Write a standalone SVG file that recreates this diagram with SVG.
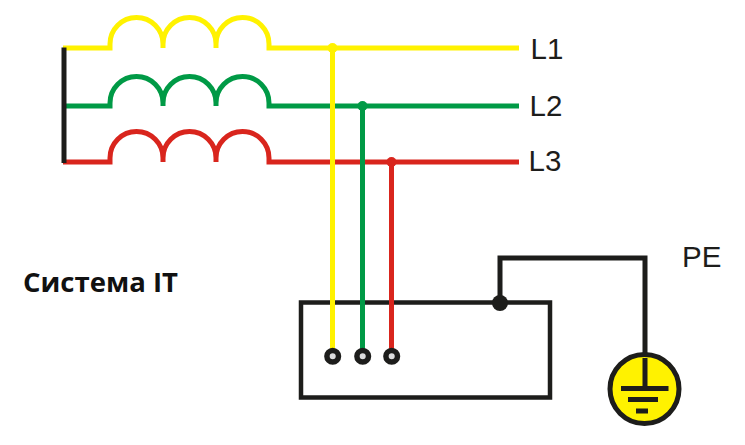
<svg xmlns="http://www.w3.org/2000/svg" width="745" height="445" viewBox="0 0 745 445">
<style>
.w{fill:none;stroke-width:5;stroke-linejoin:miter}
.y{stroke:#fff200}.g{stroke:#009a46}.r{stroke:#d9251d}.k{stroke:#1d1d1b}
.dy{fill:#fff200}.dg{fill:#009a46}.dr{fill:#d9251d}
.t{fill:#ddd;stroke:#1d1d1b;stroke-width:5.5}
.l{font-family:"Liberation Sans",Arial,sans-serif;font-size:29.500px;fill:#1d1d1b}
.title{font-family:"Open Sans",sans-serif;font-weight:700;font-size:27.500px;fill:#111}
</style>
<rect width="745" height="445" fill="#fff"/>
<g id="connectors">
<path class="w y" d="M63 48H110V44A26.500 26.500 0 0 1 163 44V48V44A26.500 26.500 0 0 1 216 44V48V44A26.500 26.500 0 0 1 269 44V48H519"/>
<path class="w g" d="M63 106H110V103A26.500 26.500 0 0 1 163 103V106V103A26.500 26.500 0 0 1 216 103V106V103A26.500 26.500 0 0 1 269 103V106H519"/>
<path class="w r" d="M63 162H110V158A26.500 26.500 0 0 1 163 158V162V158A26.500 26.500 0 0 1 216 158V162V158A26.500 26.500 0 0 1 269 158V162H519"/>
<path class="w k" d="M64 47.500V163"/>
<path class="w k" d="M500 303V258H645V389"/>
</g>
<g id="enclosure"><rect x="301" y="302.500" width="249" height="95" fill="none" stroke="#1d1d1b" stroke-width="4.500"/></g>
<g id="feeds">
<path class="w y" d="M332.500 48V350"/>
<path class="w g" d="M362.500 106V350"/>
<path class="w r" d="M391.500 162V350"/>
<circle class="dy" cx="332.500" cy="48" r="5"/>
<circle class="dg" cx="362.500" cy="106" r="5"/>
<circle class="dr" cx="391.500" cy="162" r="5"/>
</g>
<g id="terminal-1"><circle class="t" cx="332.700" cy="356.300" r="5.800"/></g>
<g id="terminal-2"><circle class="t" cx="362.700" cy="356.300" r="5.800"/></g>
<g id="terminal-3"><circle class="t" cx="391.700" cy="356.300" r="5.800"/></g>
<g id="pe-junction"><circle cx="500" cy="303" r="8" fill="#1d1d1b"/></g>
<g id="ground">
<circle cx="644.500" cy="389" r="34.500" fill="#fff200" stroke="#1d1d1b" stroke-width="5"/>
<path class="w k" d="M645 358V388M621 388.500H668.500M628 399.500H658M636 411H648"/>
</g>
<g id="label-L1"><text class="l" x="530.500" y="59">L1</text></g>
<g id="label-L2"><text class="l" x="529.500" y="116">L2</text></g>
<g id="label-L3"><text class="l" x="528.500" y="171">L3</text></g>
<g id="label-PE"><text class="l" x="682" y="266.500">PE</text></g>
<g id="title"><text class="title" x="23" y="292">Система IT</text></g>
</svg>
